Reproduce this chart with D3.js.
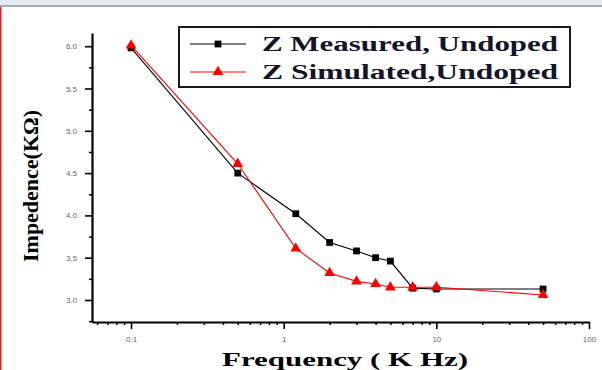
<!DOCTYPE html>
<html>
<head>
<meta charset="utf-8">
<script src="https://cdn.jsdelivr.net/npm/d3@7"></script>
<style>
  body { margin: 0; background: #fff; }
  svg { display: block; }
</style>
</head>
<body>
<div id="chart"></div>
<script>
// values
const freq = [0.1, 0.5, 1.2, 2, 3, 4, 5, 7, 10, 50];
const zMeasured = [5.98, 4.50, 4.02, 3.68, 3.58, 3.50, 3.46, 3.14, 3.13, 3.13];
const zSimulated = [6.01, 4.61, 3.61, 3.32, 3.22, 3.19, 3.15, 3.15, 3.15, 3.06];
const yTicks = [3.0, 3.5, 4.0, 4.5, 5.0, 5.5, 6.0];
const xTicks = [0.1, 1, 10, 100];
const xTickLabels = ["0.1", "1", "10", "100"];
const seriesNames = ["Z Measured, Undoped", "Z Simulated,Undoped"];

const W = 602, H = 370;
const svg = d3.select("#chart").append("svg")
  .attr("width", W)
  .attr("height", H);

// window chrome at the top and left edge
svg.append("rect").attr("x", 0).attr("y", 0).attr("width", W).attr("height", 6).attr("fill", "#e4eaf2");
svg.append("rect").attr("x", 0).attr("y", 5).attr("width", W).attr("height", 2).attr("fill", "#a9acb0");
svg.append("rect").attr("x", 0).attr("y", 7).attr("width", 1.5).attr("height", H - 7).attr("fill", "#e02020");

const x = d3.scaleLog().domain([0.0555, 100]).range([92, 589]);
const y = d3.scaleLinear().domain([2.74, 6.156]).range([322, 33]);

// minor ticks
const xMinor = [];
[0.01, 0.1, 1, 10].forEach(d => { for (let k = 2; k <= 9; k++) { const v = d * k; if (v > 0.0555 && v < 100) xMinor.push(v); } });
const yMinor = d3.range(2.75, 6.15, 0.5);

svg.append("g")
  .attr("transform", "translate(0,322)")
  .call(d3.axisBottom(x).tickValues(xMinor).tickSize(3).tickFormat(""))
  .call(g => g.selectAll("line").attr("stroke-width", 1.5))
  .call(g => g.select(".domain").remove());

svg.append("g")
  .attr("transform", "translate(92,0)")
  .call(d3.axisLeft(y).tickValues(yMinor).tickSize(3).tickFormat(""))
  .call(g => g.selectAll("line").attr("stroke-width", 1.5))
  .call(g => g.select(".domain").remove());

const xAxis = svg.append("g")
  .attr("class", "axis axis-x")
  .attr("transform", "translate(0,322)")
  .call(d3.axisBottom(x).tickValues(xTicks).tickSize(7).tickPadding(7).tickSizeOuter(0)
    .tickFormat((d, i) => xTickLabels[i]));

const yAxis = svg.append("g")
  .attr("class", "axis axis-y")
  .attr("transform", "translate(92,0)")
  .call(d3.axisLeft(y).tickValues(yTicks).tickSize(7).tickPadding(8).tickSizeOuter(0)
    .tickFormat(d3.format(".1f")));

[xAxis, yAxis].forEach(a => {
  a.select(".domain").attr("stroke-width", 2.2);
  a.selectAll(".tick line").attr("stroke-width", 1.6);
  a.selectAll("text")
    .attr("font-family", "Liberation Sans, sans-serif")
    .attr("font-size", 8)
    .attr("fill", "#666");
});

// axis titles
svg.append("text")
  .attr("transform", "translate(38,186) rotate(-90)")
  .attr("text-anchor", "middle")
  .attr("font-family", "Liberation Serif, serif")
  .attr("font-weight", "bold")
  .attr("font-size", 20)
  .attr("textLength", 152)
  .attr("lengthAdjust", "spacingAndGlyphs")
  .text("Impedence(KΩ)");

svg.append("text")
  .attr("x", 345)
  .attr("y", 366)
  .attr("text-anchor", "middle")
  .attr("font-family", "Liberation Serif, serif")
  .attr("font-weight", "bold")
  .attr("font-size", 19)
  .attr("textLength", 246)
  .attr("lengthAdjust", "spacingAndGlyphs")
  .text("Frequency ( K Hz)");

// series
const line = d3.line()
  .x(d => x(d[0]))
  .y(d => y(d[1]));

const measured = freq.map((f, i) => [f, zMeasured[i]]);
const simulated = freq.map((f, i) => [f, zSimulated[i]]);

svg.append("path")
  .datum(measured)
  .attr("d", line)
  .attr("fill", "none")
  .attr("stroke", "black")
  .attr("stroke-width", 1.1);

svg.append("path")
  .datum(simulated)
  .attr("d", line)
  .attr("fill", "none")
  .attr("stroke", "#ff0000")
  .attr("stroke-width", 1.1);

const square = d3.symbol().type(d3.symbolSquare).size(46);
const triangle = d3.symbol().type(d3.symbolTriangle).size(50);

svg.append("g").selectAll("path")
  .data(measured)
  .join("path")
  .attr("transform", d => `translate(${x(d[0])},${y(d[1])})`)
  .attr("d", square)
  .attr("fill", "black");

svg.append("g").selectAll("path")
  .data(simulated)
  .join("path")
  .attr("transform", d => `translate(${x(d[0])},${y(d[1])})`)
  .attr("d", triangle)
  .attr("fill", "#ff0000");

// legend
const legend = svg.append("g");
legend.append("rect")
  .attr("x", 179).attr("y", 27)
  .attr("width", 391).attr("height", 60)
  .attr("fill", "white")
  .attr("stroke", "black")
  .attr("stroke-width", 1.8);

const rows = [
  { name: seriesNames[0], color: "black", sym: square, y: 44 },
  { name: seriesNames[1], color: "#ff0000", sym: triangle, y: 72 }
];
rows.forEach(r => {
  legend.append("line")
    .attr("x1", 190).attr("x2", 246)
    .attr("y1", r.y).attr("y2", r.y)
    .attr("stroke", r.color).attr("stroke-width", 1.2);
  legend.append("path")
    .attr("transform", `translate(218,${r.y})`)
    .attr("d", r.sym)
    .attr("fill", r.color);
  legend.append("text")
    .attr("x", 262)
    .attr("y", r.y + 7)
    .attr("font-family", "Liberation Serif, serif")
    .attr("font-weight", "bold")
    .attr("font-size", 20)
    .attr("fill", "#14142a")
    .attr("textLength", 296)
    .attr("lengthAdjust", "spacingAndGlyphs")
    .text(r.name);
});
</script>
</body>
</html>
